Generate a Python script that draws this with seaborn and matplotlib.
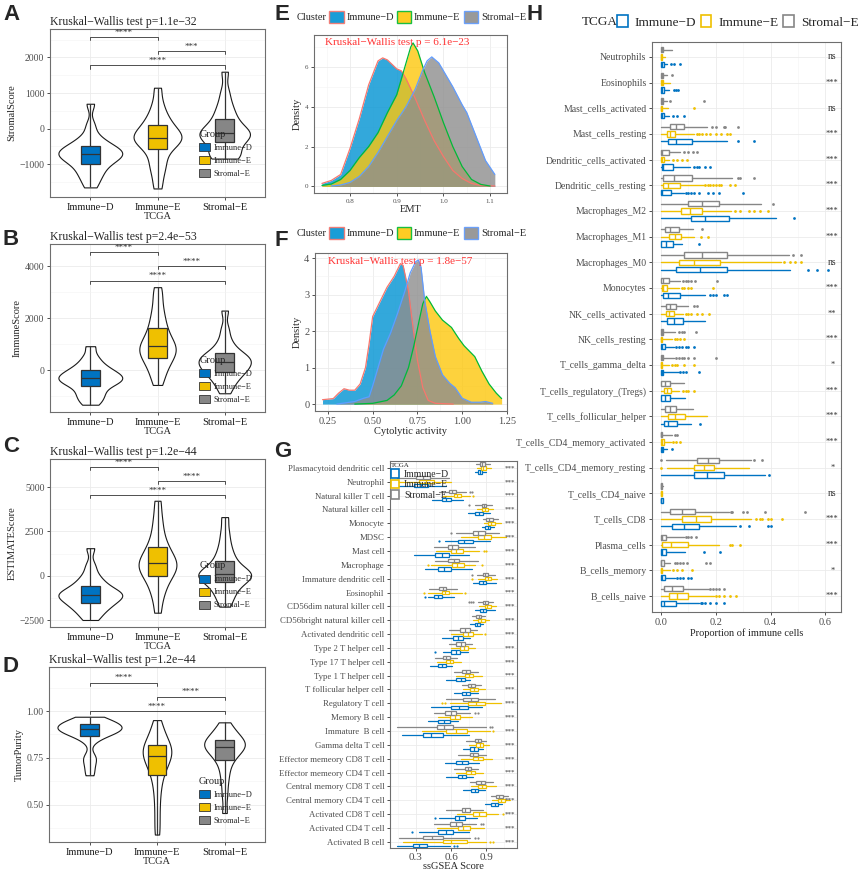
import numpy as np
import pandas as pd
import seaborn as sns
import matplotlib.pyplot as plt
from matplotlib.patches import Patch

groups = ['Immune−D', 'Immune−E', 'Stromal−E']
box_colors = ['#0073C2', '#EFC000', '#868686']
dens_fill = ['#0093D3', '#FDC70C', '#8E8E8E']
dens_line = ['#F8766D', '#00BA38', '#619CFF']

# ---- A-D: values (21 per group, sorted)
stromal_score = [
    [-1650, -1450, -1300, -1200, -1080, -980, -920, -860, -800, -760, -720, -680, -640, -600, -550, -500, -420, -330, -200, 100, 700],
    [-1680, -1350, -1100, -950, -750, -580, -480, -400, -340, -290, -250, -200, -150, -80, 0, 100, 200, 330, 500, 750, 1150],
    [-840, -820, -760, -680, -560, -380, -320, -270, -220, -170, -130, -80, -20, 40, 150, 270, 400, 550, 750, 1050, 1600],
]
immune_score = [
    [-1320, -1150, -1000, -880, -750, -600, -530, -470, -410, -350, -300, -250, -200, -140, -70, 0, 90, 200, 350, 560, 930],
    [-560, -250, 0, 180, 330, 480, 580, 680, 760, 850, 940, 1040, 1150, 1280, 1450, 1640, 1850, 2100, 2400, 2800, 3200],
    [-880, -600, -420, -280, -150, -60, 20, 100, 170, 250, 320, 390, 440, 500, 570, 650, 780, 950, 1200, 1600, 2300],
]
estimate_score = [
    [-2480, -2200, -1950, -1800, -1650, -1540, -1420, -1300, -1200, -1130, -1070, -1000, -930, -850, -720, -565, -400, -200, 100, 600, 1560],
    [-2070, -1300, -850, -500, -200, 0, 180, 340, 470, 600, 715, 850, 1000, 1170, 1380, 1620, 1900, 2300, 2800, 3400, 4230],
    [-1730, -1300, -1000, -750, -550, -320, -200, -100, -20, 50, 110, 180, 260, 400, 600, 865, 1100, 1450, 1900, 2500, 3310],
]
tumor_purity = [
    [0.657, 0.70, 0.74, 0.76, 0.84, 0.866, 0.875, 0.885, 0.89, 0.897, 0.902, 0.907, 0.912, 0.916, 0.922, 0.929, 0.935, 0.942, 0.95, 0.958, 0.97],
    [0.34, 0.42, 0.50, 0.57, 0.62, 0.661, 0.69, 0.71, 0.73, 0.745, 0.759, 0.772, 0.785, 0.795, 0.806, 0.818, 0.835, 0.855, 0.88, 0.91, 0.952],
    [0.455, 0.55, 0.62, 0.67, 0.71, 0.741, 0.76, 0.775, 0.788, 0.80, 0.809, 0.816, 0.823, 0.83, 0.838, 0.848, 0.86, 0.875, 0.89, 0.91, 0.94],
]
kw_titles = ['Kruskal−Wallis test p=1.1e−32', 'Kruskal−Wallis test p=2.4e−53',
             'Kruskal−Wallis test p=1.2e−44', 'Kruskal−Wallis test p=1.2e−44']
bracket_pairs = [(0, 1), (1, 2), (0, 2)]
stromal_br = [2565, 2170, 1775]
immune_br = [4540, 4000, 3450]
estimate_br = [6110, 5320, 4530]
purity_br = [1.152, 1.077, 1.0]
stromal_stars = ['****', '***', '****']
other_stars = ['****', '****', '****']

# ---- E, F: density curves
emt_d_x = [0.74, 0.76, 0.78, 0.80, 0.82, 0.84, 0.86, 0.87, 0.88, 0.90, 0.91, 0.92, 0.94, 0.96, 0.98, 1.00, 1.02, 1.04, 1.06, 1.08, 1.11]
emt_d_y = [0.15, 0.3, 0.6, 1.9, 3.4, 5.1, 6.3, 6.45, 6.35, 5.9, 5.8, 5.4, 4.4, 3.3, 2.3, 1.5, 0.8, 0.4, 0.15, 0.05, 0.02]
emt_e_x = [0.74, 0.76, 0.78, 0.80, 0.82, 0.84, 0.86, 0.88, 0.90, 0.915, 0.93, 0.935, 0.945, 0.96, 0.98, 1.00, 1.02, 1.04, 1.06, 1.08, 1.10]
emt_e_y = [0.05, 0.12, 0.35, 0.8, 1.45, 2.0, 2.7, 3.7, 4.6, 5.8, 7.0, 7.2, 6.8, 5.7, 4.5, 3.2, 2.0, 1.0, 0.35, 0.1, 0.02]
emt_s_x = [0.76, 0.78, 0.80, 0.82, 0.84, 0.86, 0.88, 0.90, 0.92, 0.94, 0.955, 0.965, 0.975, 0.99, 1.00, 1.02, 1.04, 1.05, 1.07, 1.09, 1.11]
emt_s_y = [0.02, 0.07, 0.2, 0.5, 1.0, 1.7, 2.5, 3.3, 4.0, 4.9, 5.8, 6.3, 6.5, 6.2, 5.8, 5.0, 4.1, 3.7, 2.5, 1.3, 0.6]

cyt_d_x = [0.22, 0.28, 0.31, 0.34, 0.37, 0.40, 0.43, 0.46, 0.48, 0.50, 0.53, 0.55, 0.58, 0.62, 0.655, 0.67, 0.70, 0.72, 0.75, 0.78, 0.81, 0.85, 0.95]
cyt_d_y = [0.12, 0.15, 0.3, 0.42, 0.38, 0.38, 0.55, 1.0, 1.65, 2.4, 2.7, 2.9, 3.2, 3.5, 3.85, 3.8, 3.1, 2.3, 1.2, 0.45, 0.1, 0.02, 0.0]
cyt_e_x = [0.40, 0.50, 0.58, 0.62, 0.66, 0.70, 0.73, 0.76, 0.78, 0.80, 0.82, 0.85, 0.89, 0.94, 0.98, 1.01, 1.04, 1.07, 1.11, 1.15, 1.19, 1.22]
cyt_e_y = [0.0, 0.02, 0.1, 0.25, 0.5, 1.0, 1.6, 2.3, 2.75, 2.95, 2.8, 2.55, 2.3, 2.1, 1.8, 1.6, 1.45, 1.3, 0.9, 0.55, 0.3, 0.15]
cyt_s_x = [0.30, 0.40, 0.45, 0.48, 0.50, 0.53, 0.56, 0.60, 0.64, 0.68, 0.71, 0.74, 0.755, 0.77, 0.79, 0.82, 0.85, 0.89, 0.93, 0.96, 1.00, 1.05, 1.10, 1.13, 1.17]
cyt_s_y = [0.0, 0.07, 0.16, 0.2, 0.5, 1.0, 1.5, 1.95, 2.5, 3.1, 3.6, 3.9, 3.95, 3.75, 2.85, 2.0, 1.3, 0.8, 0.57, 0.45, 0.16, 0.05, 0.05, 0.07, 0.02]

# ---- G: ssGSEA boxes (whislo, q1, med, q3, whishi)
g_cells = ['Plasmacytoid dendritic cell', 'Neutrophil', 'Natural killer T cell', 'Natural killer cell',
           'Monocyte', 'MDSC', 'Mast cell', 'Macrophage', 'Immature dendritic cell', 'Eosinophil',
           'CD56dim natural killer cell', 'CD56bright natural killer cell', 'Activated dendritic cell',
           'Type 2 T helper cell', 'Type 17 T helper cell', 'Type 1 T helper cell', 'T follicular helper cell',
           'Regulatory T cell', 'Memory B cell', 'Immature  B cell', 'Gamma delta T cell',
           'Effector memeory CD8 T cell', 'Effector memeory CD4 T cell', 'Central memory CD8 T cell',
           'Central memory CD4 T cell', 'Activated CD8 T cell', 'Activated CD4 T cell', 'Activated B cell']
g_immune_d = [(0.80, 0.825, 0.845, 0.865, 0.895), (0.10, 0.28, 0.34, 0.40, 0.56), (0.44, 0.525, 0.56, 0.60, 0.70),
              (0.74, 0.80, 0.835, 0.87, 0.93), (0.86, 0.89, 0.91, 0.93, 0.965), (0.55, 0.66, 0.71, 0.79, 0.93),
              (0.28, 0.46, 0.52, 0.58, 0.75), (0.38, 0.49, 0.54, 0.60, 0.78), (0.79, 0.84, 0.87, 0.90, 0.98),
              (0.40, 0.455, 0.485, 0.52, 0.62), (0.80, 0.845, 0.875, 0.90, 0.97), (0.76, 0.80, 0.82, 0.845, 0.87),
              (0.52, 0.617, 0.66, 0.70, 0.76), (0.53, 0.60, 0.64, 0.674, 0.74), (0.42, 0.49, 0.52, 0.56, 0.61),
              (0.56, 0.645, 0.68, 0.716, 0.76), (0.62, 0.69, 0.725, 0.76, 0.83), (0.43, 0.60, 0.67, 0.745, 0.86),
              (0.40, 0.49, 0.54, 0.59, 0.66), (0.18, 0.36, 0.43, 0.53, 0.75), (0.70, 0.76, 0.795, 0.83, 0.87),
              (0.55, 0.645, 0.69, 0.745, 0.84), (0.56, 0.66, 0.69, 0.73, 0.79), (0.70, 0.77, 0.80, 0.83, 0.89),
              (0.89, 0.943, 0.97, 1.0, 1.03), (0.50, 0.63, 0.67, 0.716, 0.82), (0.33, 0.49, 0.56, 0.617, 0.75),
              (0.14, 0.275, 0.33, 0.395, 0.59)]
g_immune_e = [(0.82, 0.855, 0.875, 0.90, 0.94), (0.16, 0.33, 0.39, 0.45, 0.60), (0.53, 0.62, 0.65, 0.68, 0.76),
              (0.82, 0.865, 0.89, 0.915, 0.96), (0.88, 0.915, 0.94, 0.97, 1.02), (0.68, 0.83, 0.88, 0.94, 1.07),
              (0.47, 0.60, 0.64, 0.70, 0.84), (0.43, 0.61, 0.65, 0.71, 0.80), (0.83, 0.885, 0.91, 0.94, 0.99),
              (0.40, 0.52, 0.55, 0.58, 0.69), (0.84, 0.885, 0.905, 0.94, 0.98), (0.79, 0.83, 0.855, 0.886, 0.92),
              (0.60, 0.70, 0.745, 0.79, 0.86), (0.60, 0.674, 0.71, 0.745, 0.80), (0.48, 0.56, 0.59, 0.617, 0.68),
              (0.64, 0.716, 0.75, 0.787, 0.86), (0.70, 0.76, 0.795, 0.83, 0.89), (0.59, 0.745, 0.81, 0.886, 1.02),
              (0.49, 0.59, 0.63, 0.674, 0.78), (0.35, 0.56, 0.64, 0.735, 0.93), (0.75, 0.815, 0.845, 0.87, 0.92),
              (0.68, 0.787, 0.83, 0.87, 0.95), (0.64, 0.73, 0.765, 0.80, 0.87), (0.77, 0.83, 0.865, 0.90, 0.98),
              (0.95, 1.0, 1.025, 1.056, 1.10), (0.65, 0.787, 0.84, 0.90, 1.0), (0.48, 0.66, 0.70, 0.76, 0.88),
              (0.19, 0.53, 0.60, 0.735, 0.90)]
g_stromal_e = [(0.81, 0.845, 0.865, 0.885, 0.93), (0.14, 0.30, 0.36, 0.42, 0.58), (0.50, 0.585, 0.61, 0.645, 0.73),
               (0.80, 0.86, 0.88, 0.90, 0.95), (0.87, 0.90, 0.92, 0.955, 1.0), (0.64, 0.79, 0.83, 0.885, 1.01),
               (0.45, 0.57, 0.61, 0.66, 0.80), (0.46, 0.57, 0.62, 0.67, 0.83), (0.82, 0.87, 0.89, 0.915, 0.97),
               (0.41, 0.50, 0.53, 0.56, 0.65), (0.83, 0.87, 0.89, 0.915, 0.96), (0.78, 0.815, 0.835, 0.858, 0.89),
               (0.58, 0.674, 0.715, 0.76, 0.82), (0.58, 0.645, 0.68, 0.716, 0.78), (0.46, 0.53, 0.56, 0.59, 0.65),
               (0.62, 0.69, 0.725, 0.76, 0.83), (0.69, 0.745, 0.77, 0.80, 0.85), (0.56, 0.70, 0.77, 0.83, 0.97),
               (0.45, 0.546, 0.595, 0.645, 0.76), (0.14, 0.48, 0.54, 0.615, 0.90), (0.73, 0.80, 0.83, 0.858, 0.90),
               (0.66, 0.76, 0.79, 0.83, 0.90), (0.62, 0.716, 0.745, 0.77, 0.83), (0.76, 0.815, 0.85, 0.886, 0.96),
               (0.94, 0.985, 1.01, 1.04, 1.08), (0.56, 0.69, 0.72, 0.76, 0.87), (0.45, 0.59, 0.64, 0.69, 0.81),
               (0.16, 0.36, 0.44, 0.53, 0.76)]
g_fliers_d = {'MDSC': [0.50], 'Type 2 T helper cell': [0.46], 'Eosinophil': [0.38],
              'Activated CD8 T cell': [0.46], 'Activated CD4 T cell': [0.27], 'Activated B cell': [0.62, 0.65]}
g_fliers_e = {'Natural killer T cell': [0.79], 'Mast cell': [0.88, 0.90], 'Activated dendritic cell': [0.89],
              'Regulatory T cell': [0.52, 0.55], 'Immature  B cell': [0.96], 'Activated CD8 T cell': [1.04],
              'Eosinophil': [0.37, 0.72], 'Macrophage': [0.40, 0.86], 'Activated B cell': [0.93, 0.96],
              'Immature dendritic cell': [0.78]}
g_fliers_s = {'Natural killer T cell': [0.76, 0.78], 'Immature  B cell': [0.93, 0.95],
              'Activated CD4 T cell': [0.85, 0.87], 'Activated B cell': [0.80, 0.83],
              'CD56dim natural killer cell': [0.75, 0.77, 0.79], 'Immature dendritic cell': [0.78],
              'Natural killer cell': [0.75], 'Memory B cell': [0.80, 0.83], 'MDSC': [0.60]}

# ---- H: CIBERSORT proportions (whislo, q1, med, q3, whishi)
h_cells = ['Neutrophils', 'Eosinophils', 'Mast_cells_activated', 'Mast_cells_resting',
           'Dendritic_cells_activated', 'Dendritic_cells_resting', 'Macrophages_M2', 'Macrophages_M1',
           'Macrophages_M0', 'Monocytes', 'NK_cells_activated', 'NK_cells_resting', 'T_cells_gamma_delta',
           'T_cells_regulatory_(Tregs)', 'T_cells_follicular_helper', 'T_cells_CD4_memory_activated',
           'T_cells_CD4_memory_resting', 'T_cells_CD4_naive', 'T_cells_CD8', 'Plasma_cells',
           'B_cells_memory', 'B_cells_naive']
h_signif = ['ns', '***', 'ns', '***', '***', '***', '***', '***', 'ns', '***', '**', '***', '*', '***',
            '***', '***', '*', 'ns', '***', '***', '*', '***']
h_immune_d = [(0, 0, 0.002, 0.01, 0.022), (0, 0, 0.003, 0.01, 0.03), (0, 0, 0.004, 0.012, 0.03),
              (0, 0.024, 0.056, 0.113, 0.24), (0, 0.004, 0.008, 0.044, 0.107), (0, 0, 0.004, 0.037, 0.083),
              (0, 0.11, 0.162, 0.248, 0.418), (0, 0.001, 0.018, 0.043, 0.077), (0, 0.054, 0.144, 0.239, 0.47),
              (0, 0.006, 0.024, 0.071, 0.162), (0, 0.022, 0.049, 0.079, 0.162), (0, 0.001, 0.005, 0.016, 0.046),
              (0, 0, 0.002, 0.007, 0.065), (0, 0, 0.016, 0.034, 0.088), (0, 0.012, 0.026, 0.059, 0.11),
              (0, 0, 0.002, 0.007, 0.022), (0, 0.12, 0.168, 0.229, 0.38), (0, 0, 0.001, 0.006, 0.007),
              (0, 0.04, 0.085, 0.138, 0.272), (0, 0.001, 0.005, 0.018, 0.089), (0, 0.001, 0.004, 0.013, 0.05),
              (0, 0.001, 0.012, 0.056, 0.138)]
h_immune_e = [(0, 0, 0.001, 0.005, 0.016), (0, 0, 0.002, 0.006, 0.034), (0, 0, 0.001, 0.005, 0.024),
              (0, 0.02, 0.032, 0.052, 0.12), (0, 0, 0.002, 0.01, 0.03), (0, 0.007, 0.024, 0.068, 0.156),
              (0, 0.073, 0.107, 0.15, 0.254), (0, 0.028, 0.052, 0.074, 0.12), (0, 0.065, 0.122, 0.215, 0.437),
              (0, 0.004, 0.006, 0.022, 0.065), (0, 0.018, 0.03, 0.046, 0.08), (0, 0, 0.001, 0.005, 0.04),
              (0, 0, 0.001, 0.004, 0.028), (0, 0.012, 0.022, 0.037, 0.065), (0, 0.024, 0.052, 0.087, 0.168),
              (0, 0, 0.003, 0.012, 0.035), (0.021, 0.12, 0.156, 0.195, 0.32), (0, 0, 0.001, 0.004, 0.005),
              (0, 0.077, 0.126, 0.183, 0.327), (0, 0.004, 0.037, 0.098, 0.21), (0, 0, 0.001, 0.005, 0.034),
              (0, 0.028, 0.059, 0.098, 0.193)]
h_stromal_e = [(0, 0, 0.002, 0.007, 0.04), (0, 0, 0.002, 0.007, 0.022), (0, 0, 0.002, 0.007, 0.022),
               (0, 0.032, 0.056, 0.083, 0.168), (0, 0, 0.004, 0.028, 0.07), (0, 0.007, 0.049, 0.113, 0.26),
               (0, 0.098, 0.15, 0.213, 0.366), (0, 0.013, 0.034, 0.067, 0.117), (0, 0.083, 0.148, 0.239, 0.467),
               (0, 0, 0.008, 0.028, 0.07), (0, 0.018, 0.034, 0.056, 0.10), (0, 0, 0.002, 0.007, 0.052),
               (0, 0, 0.002, 0.007, 0.046), (0, 0.001, 0.016, 0.034, 0.083), (0, 0.016, 0.034, 0.056, 0.117),
               (0, 0, 0.001, 0.005, 0.04), (0.017, 0.132, 0.171, 0.213, 0.327), (0, 0, 0.001, 0.005, 0.006),
               (0, 0.034, 0.077, 0.123, 0.248), (0, 0.001, 0.005, 0.018, 0.083), (0, 0, 0.001, 0.01, 0.034),
               (0, 0.01, 0.04, 0.08, 0.174)]
h_fliers_d = {'Neutrophils': [0.035, 0.048, 0.07], 'Eosinophils': [0.046, 0.055, 0.062],
              'Mast_cells_activated': [0.045, 0.06, 0.083], 'Mast_cells_resting': [0.28, 0.34],
              'Dendritic_cells_activated': [0.12, 0.13, 0.14, 0.16, 0.18],
              'Dendritic_cells_resting': [0.09, 0.1, 0.11, 0.12, 0.14, 0.17, 0.19, 0.21, 0.3],
              'Macrophages_M2': [0.485], 'Macrophages_M1': [0.138], 'Macrophages_M0': [0.535, 0.57, 0.61],
              'Monocytes': [0.18, 0.19, 0.2, 0.23, 0.24], 'NK_cells_resting': [0.055, 0.065, 0.075, 0.09, 0.1, 0.122],
              'T_cells_gamma_delta': [0.07, 0.08, 0.09, 0.138], 'T_cells_follicular_helper': [0.144],
              'T_cells_CD4_memory_activated': [0.04], 'T_cells_CD4_memory_resting': [0.394],
              'T_cells_CD8': [0.29, 0.32, 0.39, 0.40], 'Plasma_cells': [0.156, 0.217],
              'B_cells_memory': [0.06, 0.07, 0.08, 0.1, 0.11], 'B_cells_naive': [0.145, 0.15, 0.16, 0.18, 0.2, 0.23]}
h_fliers_e = {'Mast_cells_activated': [0.122],
              'Mast_cells_resting': [0.13, 0.14, 0.15, 0.165, 0.18, 0.2, 0.22, 0.24, 0.25],
              'Dendritic_cells_activated': [0.045, 0.06, 0.075, 0.095],
              'Dendritic_cells_resting': [0.16, 0.17, 0.18, 0.19, 0.2, 0.21, 0.22, 0.25, 0.27],
              'Macrophages_M2': [0.27, 0.29, 0.32, 0.34, 0.36, 0.39], 'Macrophages_M1': [0.145, 0.17],
              'Macrophages_M0': [0.45, 0.47, 0.49, 0.51], 'Monocytes': [0.075, 0.085, 0.1, 0.11, 0.19],
              'NK_cells_activated': [0.09, 0.1, 0.11, 0.13, 0.15, 0.175], 'NK_cells_resting': [0.05, 0.06, 0.07, 0.083],
              'T_cells_gamma_delta': [0.04, 0.05, 0.06, 0.085, 0.12], 'T_cells_regulatory_(Tregs)': [0.08, 0.09, 0.1, 0.122],
              'T_cells_CD4_memory_activated': [0.045, 0.055, 0.068], 'T_cells_CD4_memory_resting': [0.0],
              'T_cells_CD8': [0.345, 0.36, 0.37, 0.39, 0.40, 0.443], 'Plasma_cells': [0.25, 0.26, 0.29],
              'B_cells_memory': [0.045, 0.06, 0.075, 0.113], 'B_cells_naive': [0.2, 0.21, 0.23, 0.25, 0.272]}
h_fliers_s = {'Eosinophils': [0.04], 'Mast_cells_activated': [0.034, 0.156],
              'Mast_cells_resting': [0.185, 0.2, 0.23, 0.235, 0.28], 'Dendritic_cells_activated': [0.085, 0.1, 0.115, 0.13],
              'Dendritic_cells_resting': [0.28, 0.29, 0.34], 'Macrophages_M2': [0.41], 'Macrophages_M1': [0.15],
              'Macrophages_M0': [0.48, 0.51], 'Monocytes': [0.08, 0.09, 0.1, 0.11, 0.125, 0.205],
              'NK_cells_activated': [0.12, 0.13], 'NK_cells_resting': [0.065, 0.075, 0.085, 0.126],
              'T_cells_gamma_delta': [0.055, 0.065, 0.075, 0.085, 0.1, 0.12, 0.2],
              'T_cells_CD4_memory_activated': [0.05, 0.06], 'T_cells_CD4_memory_resting': [0.0, 0.34, 0.37],
              'T_cells_CD8': [0.254, 0.26, 0.3, 0.315, 0.38, 0.525], 'Plasma_cells': [0.09, 0.1, 0.11, 0.126],
              'B_cells_memory': [0.05, 0.06, 0.07, 0.08, 0.095, 0.165, 0.18], 'B_cells_naive': [0.18, 0.19, 0.2, 0.21, 0.23]}

# ---------------------------------------------------------------- style
sns.set_theme(style='whitegrid', rc={
    'axes.edgecolor': '#6e6e6e', 'axes.linewidth': 0.8,
    'grid.color': '#EBEBEB', 'grid.linewidth': 0.6,
    'xtick.bottom': True, 'ytick.left': True,
    'xtick.major.size': 2.5, 'ytick.major.size': 2.5,
    'xtick.major.width': 0.6, 'ytick.major.width': 0.6,
    'xtick.major.pad': 1.5, 'ytick.major.pad': 1.5,
    'xtick.color': '#333333', 'ytick.color': '#333333',
})
plt.rcParams['font.family'] = ['Liberation Serif', 'DejaVu Serif']

W, H = 858, 873
fig = plt.figure(figsize=(W / 100, H / 100), dpi=100)


def add_ax(l, t, r, b):
    return fig.add_axes([l / W, 1 - b / H, (r - l) / W, (b - t) / H])


def letter(x, y, s):
    fig.text(x / W, 1 - y / H, s, fontsize=16, fontweight='bold',
             family='Liberation Sans', va='top', ha='left')


def violin_panel(ax, vals, ylabel, title, ylim, yticks, yminor, ylabels, br_y, br_txt, leg_top):
    df = pd.DataFrame({'TCGA': np.repeat(groups, [len(v) for v in vals]),
                       'score': np.concatenate(vals)})
    sns.violinplot(data=df, x='TCGA', y='score', order=groups, color='white', saturation=1,
                   linecolor='#1a1a1a', linewidth=0.8, inner=None, cut=0, width=0.95,
                   bw_adjust=0.6, ax=ax)
    sns.boxplot(data=df, x='TCGA', y='score', order=groups, hue='TCGA', hue_order=groups,
                palette=box_colors, saturation=1, dodge=False, width=0.28, whis=(0, 100),
                linecolor='#333333', linewidth=0.9, showcaps=False, legend=False, ax=ax)
    ax.set_xlim(-0.6, 2.6)
    ax.set_ylim(*ylim)
    ax.set_yticks(yticks)
    ax.set_yticklabels(ylabels)
    ax.set_yticks(yminor, minor=True)
    ax.xaxis.grid(True)
    ax.yaxis.grid(True, which='minor', color='#F3F3F3', lw=0.4)
    ax.tick_params(which='minor', length=0)
    ax.tick_params(labelsize=7, labelcolor='#4D4D4D')
    ax.tick_params(axis='x', labelsize=7.5, labelcolor='#1a1a1a')
    ax.set_xlabel('TCGA', fontsize=7.5, labelpad=0)
    ax.set_ylabel(ylabel, fontsize=7.5, labelpad=2)
    ax.set_title(title, loc='left', fontsize=8.5, pad=3)
    drop = (ylim[1] - ylim[0]) * 0.018
    for (i, j), y, t in zip(bracket_pairs, br_y, br_txt):
        ax.plot([i, i, j, j], [y - drop, y, y, y - drop], color='#333333', lw=0.6)
        ax.text((i + j) / 2, y + drop * 0.2, t, ha='center', va='bottom', fontsize=6.5, color='#333333')
    handles = [Patch(facecolor=c, edgecolor='#333333', lw=0.6) for c in box_colors]
    ax.legend(handles, groups, title='Group', loc='upper left', bbox_to_anchor=(0.695, leg_top),
              frameon=False, fontsize=6, title_fontsize=7.5, alignment='left',
              handlelength=1.3, handleheight=1.1, handletextpad=0.4, labelspacing=0.5,
              borderpad=0, borderaxespad=0)


def density_panel(ax, curves, xlabel, xlim, ylim, xticks, xlabels, yticks, xminor, yminor, txt, txt_xy, tsize):
    for (x, y), fc, lc in zip(curves, dens_fill, dens_line):
        ax.fill_between(x, y, 0, color=fc, alpha=0.8, lw=0)
        sns.lineplot(x=x, y=y, color=lc, lw=0.9, estimator=None, sort=False, ax=ax)
    ax.set_xlim(*xlim)
    ax.set_ylim(*ylim)
    ax.set_xticks(xticks)
    ax.set_xticklabels(xlabels)
    ax.set_yticks(yticks)
    ax.set_xticks(xminor, minor=True)
    ax.set_yticks(yminor, minor=True)
    ax.grid(True, which='minor', color='#F3F3F3', lw=0.4)
    ax.tick_params(which='minor', length=0)
    ax.tick_params(labelsize=tsize, labelcolor='#4D4D4D')
    ax.set_xlabel(xlabel, fontsize=7.5, labelpad=1)
    ax.set_ylabel('Density', fontsize=7.5, labelpad=2)
    ax.text(txt_xy[0], txt_xy[1], txt, color='#FF3333', fontsize=8, ha='center', va='center')


def cluster_legend(y):
    fig.text(297 / W, 1 - y / H, 'Cluster', fontsize=7.5, va='center', ha='left')
    handles = [Patch(facecolor=fc, edgecolor=lc, lw=1, alpha=0.9) for fc, lc in zip(dens_fill, dens_line)]
    fig.legend(handles, groups, loc='center left', bbox_to_anchor=(329 / W, 1 - y / H), ncol=3,
               frameon=False, fontsize=7.5, handlelength=1.4, handleheight=1.4, handletextpad=0.25,
               columnspacing=0.3, borderpad=0, borderaxespad=0)


def box_panel(ax, stats, fliers, names, offset, width, lw, ms):
    n = len(names)
    for k, col in enumerate(box_colors):
        pos = np.arange(n) + (1 - k) * offset
        st = [dict(whislo=a, q1=b, med=c, q3=d, whishi=e, fliers=fliers[k].get(nm, []))
              for (a, b, c, d, e), nm in zip(stats[k], names)]
        ax.bxp(st, positions=pos, widths=width, orientation='horizontal', showcaps=False,
               patch_artist=True, manage_ticks=False,
               boxprops=dict(facecolor='white', edgecolor=col, linewidth=lw),
               medianprops=dict(color=col, linewidth=lw),
               whiskerprops=dict(color=col, linewidth=lw),
               flierprops=dict(marker='o', markerfacecolor=col, markeredgecolor='none', markersize=ms))
    ax.set_yticks(np.arange(n))
    ax.set_yticklabels(names)
    ax.tick_params(labelcolor='#4D4D4D')


# ---------------------------------------------------------------- A-D
ax_a = add_ax(50, 29, 265, 197)
violin_panel(ax_a, stromal_score, 'StromalScore', kw_titles[0], (-1920, 2800),
             [-1000, 0, 1000, 2000], [-1500, -500, 500, 1500, 2500], ['−1000', '0', '1000', '2000'],
             stromal_br, stromal_stars, 0.40)
ax_b = add_ax(50, 244, 265, 412)
violin_panel(ax_b, immune_score, 'ImmuneScore', kw_titles[1], (-1600, 4860),
             [0, 2000, 4000], [-1000, 1000, 3000], ['0', '2000', '4000'],
             immune_br, other_stars, 0.335)
ax_c = add_ax(50, 459, 265, 627)
violin_panel(ax_c, estimate_score, 'ESTIMATEScore', kw_titles[2], (-2875, 6580),
             [-2500, 0, 2500, 5000], [-1250, 1250, 3750], ['−2500', '0', '2500', '5000'],
             estimate_br, other_stars, 0.39)
ax_d = add_ax(49, 667, 265, 842)
violin_panel(ax_d, tumor_purity, 'TumorPurity', kw_titles[3], (0.30, 1.236),
             [0.5, 0.75, 1.0], [0.375, 0.625, 0.875, 1.125], ['0.50', '0.75', '1.00'],
             purity_br, other_stars, 0.37)

# ---------------------------------------------------------------- E, F
ax_e = add_ax(314, 35, 507, 193)
density_panel(ax_e, [(emt_d_x, emt_d_y), (emt_e_x, emt_e_y), (emt_s_x, emt_s_y)], 'EMT',
              (0.723, 1.136), (-0.33, 7.6), [0.8, 0.9, 1.0, 1.1], ['0.8', '0.9', '1.0', '1.1'],
              [0, 2, 4, 6], [0.75, 0.85, 0.95, 1.05], [1, 3, 5, 7],
              'Kruskal−Wallis test p = 6.1e−23', (0.90, 7.2), 5)
cluster_legend(17)
ax_f = add_ax(315, 253, 507, 411)
density_panel(ax_f, [(cyt_d_x, cyt_d_y), (cyt_e_x, cyt_e_y), (cyt_s_x, cyt_s_y)], 'Cytolytic activity',
              (0.178, 1.25), (-0.19, 4.14), [0.25, 0.5, 0.75, 1.0, 1.25], ['0.25', '0.50', '0.75', '1.00', '1.25'],
              [0, 1, 2, 3, 4], [0.375, 0.625, 0.875, 1.125], [0.5, 1.5, 2.5, 3.5],
              'Kruskal−Wallis test p = 1.8e−57', (0.652, 3.92), 7.5)
cluster_legend(233)

# ---------------------------------------------------------------- G
ax_g = add_ax(390, 461, 517, 848)
box_panel(ax_g, [g_immune_d, g_immune_e, g_stromal_e], [g_fliers_d, g_fliers_e, g_fliers_s],
          g_cells, 0.29, 0.24, 0.9, 1.6)
ax_g.set_ylim(27.45, -0.5)
ax_g.set_xlim(0.08, 1.16)
ax_g.set_xticks([0.3, 0.6, 0.9])
ax_g.set_xticks([0.15, 0.45, 0.75, 1.05], minor=True)
ax_g.grid(True, which='minor', axis='x', color='#F3F3F3', lw=0.4)
ax_g.tick_params(which='minor', length=0)
ax_g.tick_params(axis='y', labelsize=6.3)
ax_g.tick_params(axis='x', labelsize=8, pad=1)
ax_g.set_xlabel('ssGSEA Score', fontsize=7.5, labelpad=0)
for i in range(len(g_cells)):
    ax_g.text(1.10, i, '***', fontsize=5, ha='center', va='center', color='#333333')
g_handles = [Patch(facecolor='white', edgecolor=c, lw=1.2) for c in box_colors]
ax_g.legend(g_handles, groups, title='TCGA', loc='upper left', bbox_to_anchor=(0.01, 0.995),
            frameon=False, fontsize=7, title_fontsize=5, alignment='left', handlelength=0.8,
            handleheight=1.0, handletextpad=0.5, labelspacing=0.1, borderpad=0, borderaxespad=0)

# ---------------------------------------------------------------- H
ax_h = add_ax(652, 42, 841, 612)
box_panel(ax_h, [h_immune_d, h_immune_e, h_stromal_e], [h_fliers_d, h_fliers_e, h_fliers_s],
          h_cells, 0.286, 0.21, 1.0, 2.0)
ax_h.set_ylim(21.62, -0.58)
ax_h.set_xlim(-0.033, 0.657)
ax_h.set_xticks([0.0, 0.2, 0.4, 0.6])
ax_h.set_xticklabels(['0.0', '0.2', '0.4', '0.6'])
ax_h.set_xticks([0.1, 0.3, 0.5], minor=True)
ax_h.grid(True, which='minor', axis='x', color='#F3F3F3', lw=0.4)
ax_h.tick_params(which='minor', length=0)
ax_h.tick_params(axis='y', labelsize=7)
ax_h.tick_params(axis='x', labelsize=7.5)
ax_h.set_xlabel('Proportion of immune cells', fontsize=7.5, labelpad=1)
for i, s in enumerate(h_signif):
    ax_h.text(0.625, i, s, fontsize=7 if s == 'ns' else 6, ha='center', va='center', color='#333333')
fig.text(582 / W, 1 - 22 / H, 'TCGA', fontsize=9.5, va='center', ha='left')
h_handles = [Patch(facecolor='white', edgecolor=c, lw=1.2) for c in box_colors]
fig.legend(h_handles, groups, loc='center left', bbox_to_anchor=(617 / W, 1 - 22 / H), ncol=3,
           frameon=False, fontsize=9.5, handlelength=0.8, handleheight=1.0, handletextpad=0.5,
           columnspacing=0.4, borderpad=0, borderaxespad=0)

# ---------------------------------------------------------------- panel letters
letter(3, 4, 'A')
letter(3, 229, 'B')
letter(3, 436, 'C')
letter(3, 656, 'D')
letter(274, 4, 'E')
letter(274, 230, 'F')
letter(274, 441, 'G')
letter(527, 4, 'H')

fig.savefig('out.png', dpi=100, facecolor='white')
